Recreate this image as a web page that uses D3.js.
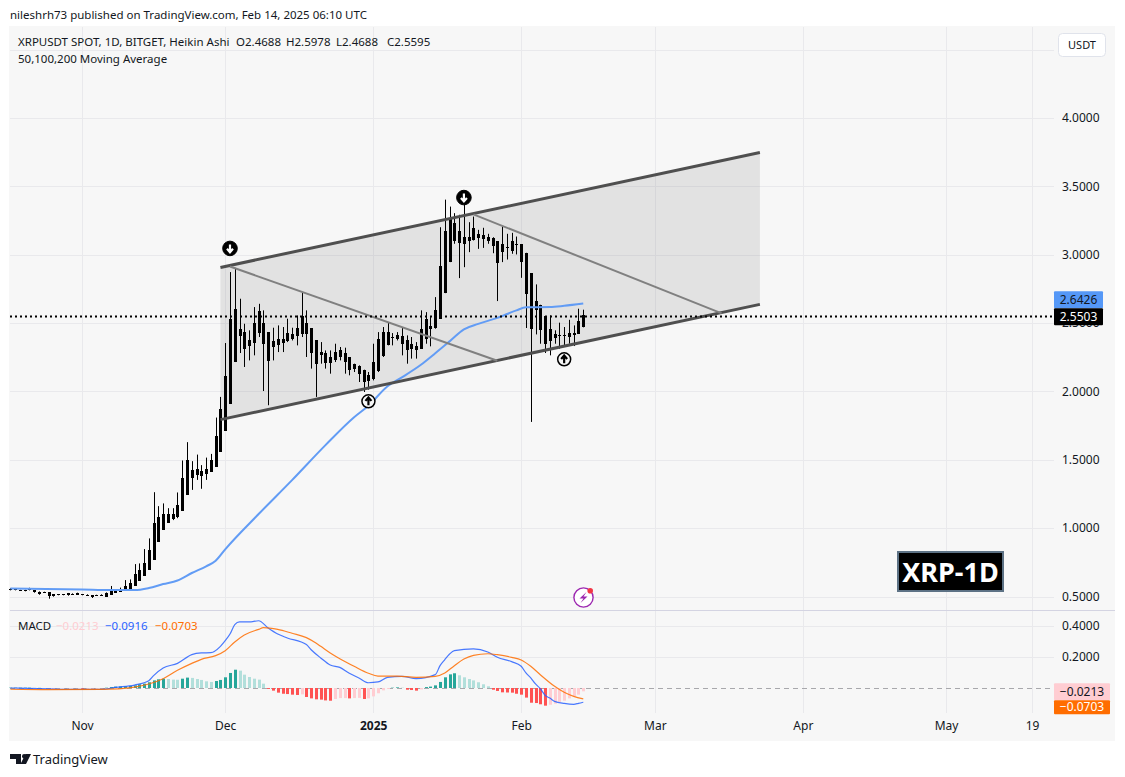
<!DOCTYPE html>
<html>
<head>
<meta charset="utf-8">
<script src="https://cdnjs.cloudflare.com/ajax/libs/d3/7.8.5/d3.min.js"></script>
<style>
	html, body { margin: 0; background: #fff; }
	svg { display: block; }
	text { font-family: "Noto Sans", sans-serif; fill: #131722; }
	.axis path, .axis line { display: none; }
</style>
</head>
<body>
<svg id="chart" width="1125" height="777"></svg>
<script>
// heikin ashi candles, one per day from firstDay to lastDay (all drawn black)
const firstDay = '2024-10-17', lastDay = '2025-02-14'
const bodyBottom = [
	.547,.547,.543,.540,.547,.530,.518,.528,.504,.501,.511,.511,.509,.516,.513,
	.511,.511,.496,.504,.504,.499,.513,.528,.535,.543,.557,.579,.616,.652,.696,.769,.901,.988,1.039,1.066,1.081,1.127,1.244,1.368,1.390,1.380,1.397,1.412,1.448,1.558,
	1.711,1.908,2.215,2.403,2.310,2.330,2.354,2.427,2.349,2.223,2.322,2.337,2.354,2.366,2.386,2.403,2.422,2.417,2.281,2.198,2.264,2.210,2.208,2.227,2.252,2.213,2.154,2.162,2.130,2.069,2.077,
	2.093,2.150,2.257,2.337,2.391,2.386,2.349,2.300,2.308,2.305,2.313,2.386,2.459,2.464,2.532,2.719,2.946,3.099,3.084,3.080,3.099,3.111,3.121,3.114,3.099,3.067,2.938,3.019,3.046,3.024,3.070,
	2.946,2.709,2.456,2.598,2.447,2.349,2.366,2.393,2.405,2.403,2.398,2.410,2.420,2.4688]
const bodyTop = [
	.555,.552,.547,.547,.555,.545,.535,.533,.530,.516,.516,.516,.523,.521,.523,
	.516,.513,.509,.509,.511,.526,.552,.547,.557,.577,.601,.664,.693,.747,.840,1.037,1.081,1.103,1.103,1.103,1.168,1.366,1.497,1.424,1.431,1.417,1.431,1.497,1.672,1.870,
	2.113,2.527,2.605,2.454,2.432,2.374,2.503,2.585,2.503,2.432,2.366,2.381,2.383,2.427,2.417,2.464,2.554,2.498,2.461,2.374,2.288,2.281,2.252,2.288,2.300,2.279,2.249,2.203,2.184,2.159,2.120,
	2.213,2.381,2.432,2.432,2.395,2.410,2.403,2.378,2.344,2.330,2.459,2.532,2.476,2.598,2.914,3.177,3.267,3.233,3.170,3.128,3.133,3.192,3.153,3.141,3.133,3.119,3.097,3.080,3.053,3.097,3.077,
	3.075,3.014,2.863,2.658,2.634,2.549,2.454,2.420,2.410,2.410,2.430,2.425,2.512,2.5595]
const wickHigh = [
	.560,.555,.549,.549,.564,.547,.537,.535,.532,.518,.518,.518,.526,.523,.528,
	.518,.516,.511,.513,.516,.530,.577,.550,.565,.620,.625,.737,.742,.847,.925,1.263,1.161,1.181,1.146,1.146,1.261,1.495,1.629,1.490,1.538,1.461,1.516,1.543,1.809,1.960,
	2.354,2.873,2.904,2.678,2.495,2.447,2.617,2.641,2.593,2.432,2.466,2.483,2.471,2.532,2.466,2.556,2.727,2.593,2.461,2.374,2.361,2.300,2.300,2.349,2.325,2.320,2.249,2.203,2.191,2.159,2.142,
	2.349,2.434,2.471,2.503,2.427,2.434,2.471,2.410,2.398,2.361,2.593,2.580,2.544,2.690,3.201,3.403,3.352,3.304,3.292,3.372,3.238,3.279,3.182,3.197,3.153,3.128,3.097,3.209,3.153,3.160,3.133,
	3.075,3.014,2.863,2.783,2.634,2.549,2.556,2.447,2.503,2.471,2.524,2.483,2.605,2.5978]
const wickLow = [
	.545,.545,.541,.538,.545,.528,.513,.526,.484,.499,.509,.509,.506,.513,.511,
	.509,.509,.489,.504,.504,.499,.513,.528,.535,.543,.557,.579,.616,.652,.696,.769,.901,.988,1.039,1.059,1.073,1.127,1.244,1.280,1.353,1.288,1.353,1.412,1.448,1.558,
	1.711,1.908,2.215,2.281,2.179,2.227,2.264,2.398,2.003,1.899,2.227,2.288,2.288,2.361,2.373,2.337,2.398,2.252,2.167,1.960,2.203,2.167,2.130,2.215,2.227,2.130,2.118,2.142,2.069,1.996,2.013,
	2.081,2.142,2.252,2.337,2.337,2.373,2.264,2.203,2.240,2.240,2.313,2.349,2.330,2.459,2.532,2.719,2.946,3.080,2.829,2.909,3.019,3.104,3.043,3.050,3.080,3.011,2.661,2.946,2.965,3.007,3.002,
	2.831,2.464,1.777,2.417,2.349,2.281,2.264,2.349,2.313,2.325,2.349,2.332,2.420,2.4688]

// moving average, read at these days
const maDays = ['2024-10-17','2024-11-01','2024-11-07','2024-11-12','2024-11-15','2024-11-18','2024-11-21','2024-11-24','2024-11-27','2024-11-29','2024-12-01','2024-12-08','2024-12-15','2024-12-22','2024-12-28','2024-12-31','2025-01-04','2025-01-07','2025-01-11','2025-01-14','2025-01-17','2025-01-20','2025-01-23','2025-01-27','2025-01-31','2025-02-02','2025-02-07','2025-02-10','2025-02-14']
const maValues = [.558,.551,.547,.547,.562,.591,.617,.672,.721,.761,.845,1.103,1.351,1.607,1.811,1.895,2.038,2.103,2.195,2.279,2.366,2.454,2.494,2.538,2.593,2.615,2.617,2.626,2.6426]

// macd histogram, one per day
const histValues = [
	.002,.002,.002,.002,.002,.001,.001,.000,-.001,-.002,-.002,-.002,-.002,-.002,-.002,
	-.004,-.004,-.004,-.003,-.002,.002,.006,.009,.010,.011,.013,.017,.024,.028,.037,.049,.056,.060,.058,.054,.053,.060,.067,.065,.058,.052,.043,.039,.045,.052,
	.069,.097,.118,.112,.086,.071,.060,.054,.028,-.006,-.017,-.030,-.037,-.039,-.043,-.045,-.041,-.058,-.067,-.073,-.075,-.080,-.082,-.071,-.065,-.065,-.067,-.065,-.064,-.071,-.067,
	-.054,-.034,-.015,-.006,.002,.004,.002,-.011,-.013,-.017,-.009,.006,.009,.017,.039,.069,.088,.095,.082,.069,.058,.049,.037,.024,.011,-.011,-.019,-.028,-.029,-.030,-.037,
	-.043,-.062,-.095,-.097,-.105,-.114,-.108,-.101,-.090,-.082,-.067,-.054,-.043,-.0213]

const macdDays = ['2024-10-17','2024-10-25','2024-11-01','2024-11-05','2024-11-08','2024-11-12','2024-11-15','2024-11-16','2024-11-18','2024-11-21','2024-11-24','2024-11-26','2024-11-28','2024-11-30','2024-12-01','2024-12-02','2024-12-03','2024-12-04','2024-12-06','2024-12-08','2024-12-10','2024-12-12','2024-12-14','2024-12-18','2024-12-19','2024-12-21','2024-12-23','2024-12-25','2024-12-27','2024-12-29','2024-12-31','2025-01-02','2025-01-04','2025-01-07','2025-01-10','2025-01-14','2025-01-15','2025-01-16','2025-01-17','2025-01-18','2025-01-22','2025-01-25','2025-01-27','2025-01-30','2025-02-01','2025-02-02','2025-02-03','2025-02-04','2025-02-05','2025-02-06','2025-02-07','2025-02-08','2025-02-10','2025-02-12','2025-02-13','2025-02-14']
const macdValues = [0,-.006,-.009,-.009,.004,.019,.047,.080,.129,.159,.215,.226,.228,.269,.305,.348,.409,.426,.426,.434,.387,.348,.323,.280,.247,.194,.148,.133,.095,.065,.034,.039,.069,.075,.060,.086,.144,.183,.219,.241,.252,.232,.198,.170,.140,.097,.065,.026,-.004,-.047,-.065,-.086,-.099,-.105,-.099,-.0916]
const signalDays = ['2024-10-17','2024-10-25','2024-11-05','2024-11-12','2024-11-15','2024-11-18','2024-11-21','2024-11-24','2024-11-26','2024-11-29','2024-12-01','2024-12-03','2024-12-05','2024-12-08','2024-12-09','2024-12-12','2024-12-15','2024-12-18','2024-12-20','2024-12-21','2024-12-23','2024-12-25','2024-12-28','2024-12-31','2025-01-02','2025-01-06','2025-01-10','2025-01-14','2025-01-16','2025-01-18','2025-01-20','2025-01-22','2025-01-25','2025-01-27','2025-01-30','2025-02-01','2025-02-03','2025-02-05','2025-02-08','2025-02-10','2025-02-12','2025-02-14']
const signalValues = [-.008,-.011,-.009,.006,.026,.060,.114,.159,.185,.209,.241,.297,.342,.378,.389,.378,.353,.325,.290,.269,.226,.189,.140,.095,.077,.077,.069,.075,.097,.144,.187,.211,.221,.215,.198,.181,.140,.086,.011,-.028,-.054,-.0703]

// drawings
const channelDays = ['2024-11-30', '2025-03-23']
const channelUpper = [2.907, 3.747]
const channelLower = [1.794, 2.637]
const fallingDays = [['2024-12-02', '2025-01-27'], ['2025-01-22', '2025-03-15']]
const fallingPrices = [[2.914, 2.224], [3.295, 2.571]]
const signalMarkDays = ['2024-12-02', '2025-01-20', '2024-12-31', '2025-02-10']
const signalMarkPrices = [3.046, 3.418, 1.928, 2.235]
const signalMarkDirs = ['down', 'down', 'up', 'up']

// axes
const priceTicks = [.5, 1, 1.5, 2, 2.5, 3, 3.5, 4]
const priceGrid = [.5, 1, 1.5, 2, 2.5, 3, 3.5, 4, 4.5]
const macdTicks = [.2, .4]
const timeTicks = ['2024-11-01', '2024-12-01', '2025-01-01', '2025-02-01', '2025-03-01', '2025-04-01', '2025-05-01', '2025-05-19']
const timeLabels = ['Nov', 'Dec', '2025', 'Feb', 'Mar', 'Apr', 'May', '19']

const svg = d3.select('#chart')
const day = d3.utcParse('%Y-%m-%d')
const days = d3.utcDay.range(day(firstDay), d3.utcDay.offset(day(lastDay), 1))

const paneLeft = 10, paneRight = 1054, macdBottom = 713
const x = d3.scaleUtc().domain([day('2024-11-01'), day('2025-05-19')]).range([82, 1032])
const y = d3.scaleLinear().domain([.5, 4]).range([596.5, 118])
const my = d3.scaleLinear().domain([0, .4]).range([688, 626])

// panel background
svg.append('rect').attr('x', 9).attr('y', 26).attr('width', 1106).attr('height', 715).attr('fill', '#f7f7f7')

// grid
const grid = svg.append('g').attr('stroke', '#e9e9ec').attr('stroke-width', 1).attr('fill', 'none')
timeTicks.forEach(t => {
	const px = Math.round(x(day(t))) + .5
	grid.append('line').attr('x1', px).attr('x2', px).attr('y1', 27).attr('y2', macdBottom)
})
priceGrid.forEach(p => {
	const py = Math.round(y(p)) + .5
	grid.append('line').attr('x1', paneLeft).attr('x2', paneRight).attr('y1', py).attr('y2', py)
})
macdTicks.forEach(p => {
	const py = Math.round(my(p)) + .5
	grid.append('line').attr('x1', paneLeft).attr('x2', paneRight).attr('y1', py).attr('y2', py)
})
svg.append('line').attr('x1', 10).attr('x2', 1115).attr('y1', 610.5).attr('y2', 610.5).attr('stroke', '#d4d4e2')

// channel fill
const channelArea = d3.area()
	.x(d => x(day(d)))
	.y0((d, i) => y(channelLower[i]))
	.y1((d, i) => y(channelUpper[i]))
svg.append('path').datum(channelDays).attr('d', channelArea).attr('fill', 'rgba(120,120,120,.16)')

// candles
const candles = svg.append('g')
days.forEach((d, i) => {
	const cx = Math.round(x(d))
	candles.append('rect').attr('x', cx).attr('width', 1)
		.attr('y', y(wickHigh[i])).attr('height', y(wickLow[i]) - y(wickHigh[i]))
		.attr('fill', '#000')
	const top = Math.round(y(bodyTop[i]))
	candles.append('rect').attr('x', cx - 1).attr('width', 3)
		.attr('y', top).attr('height', Math.max(1, Math.round(y(bodyBottom[i])) - top))
		.attr('fill', '#000')
})

// moving average
const maLine = d3.line().x((d, i) => x(day(d))).y((d, i) => y(maValues[i])).curve(d3.curveMonotoneX)
svg.append('path').datum(maDays).attr('d', maLine).attr('fill', 'none').attr('stroke', '#629cf5').attr('stroke-width', 2)

// channel and falling lines
const upperLine = d3.line().x(d => x(day(d))).y((d, i) => y(channelUpper[i]))
const lowerLine = d3.line().x(d => x(day(d))).y((d, i) => y(channelLower[i]))
svg.append('path').datum(channelDays).attr('d', upperLine).attr('fill', 'none').attr('stroke', '#4f4f4f').attr('stroke-width', 3)
svg.append('path').datum(channelDays).attr('d', lowerLine).attr('fill', 'none').attr('stroke', '#4f4f4f').attr('stroke-width', 3)
fallingDays.forEach((ds, k) => {
	svg.append('line')
		.attr('x1', x(day(ds[0]))).attr('y1', y(fallingPrices[k][0]))
		.attr('x2', x(day(ds[1]))).attr('y2', y(fallingPrices[k][1]))
		.attr('stroke', '#808080').attr('stroke-width', 2)
})

// last price dotted line
svg.append('line').attr('x1', paneLeft).attr('x2', paneRight + 2)
	.attr('y1', Math.round(y(2.5503)) + .5).attr('y2', Math.round(y(2.5503)) + .5)
	.attr('stroke', '#000').attr('stroke-width', 2).attr('stroke-dasharray', '2 3')

// arrow marks
signalMarkDays.forEach((d, i) => {
	const g = svg.append('g').attr('transform', `translate(${x(day(d))},${y(signalMarkPrices[i])})`)
	const down = signalMarkDirs[i] == 'down'
	g.append('circle').attr('r', down ? 7.3 : 6.5)
		.attr('fill', down ? '#000' : '#f7f7f7')
		.attr('stroke', '#000').attr('stroke-width', down ? 1 : 1.5)
	const col = down ? '#fff' : '#000'
	g.append('path')
		.attr('d', down ? 'M0,-4V3.5M-3,0.4L0,3.8L3,0.4' : 'M0,4V-3.5M-3,-0.4L0,-3.8L3,-0.4')
		.attr('fill', 'none').attr('stroke', col).attr('stroke-width', 2.2)
})

// macd pane
svg.append('line').attr('x1', paneLeft).attr('x2', paneRight)
	.attr('y1', Math.round(my(0)) + .5).attr('y2', Math.round(my(0)) + .5)
	.attr('stroke', '#a8a8ac').attr('stroke-dasharray', '5 4')

svg.append('g').selectAll('rect').data(histValues).join('rect')
	.attr('x', (d, i) => Math.round(x(days[i])) - 1)
	.attr('width', 3)
	.attr('y', d => Math.min(my(d), my(0)))
	.attr('height', d => Math.abs(my(d) - my(0)))
	.attr('fill', (d, i) => {
		const prev = i ? histValues[i - 1] : 0
		if (d >= 0) return d >= prev ? '#26a69a' : '#b2dfdb'
		return d < prev ? '#ff5252' : '#ffcdd2'
	})

const macdLine = d3.line().x(d => x(day(d))).y((d, i) => my(macdValues[i])).curve(d3.curveMonotoneX)
const signalLine = d3.line().x(d => x(day(d))).y((d, i) => my(signalValues[i])).curve(d3.curveMonotoneX)
svg.append('path').datum(macdDays).attr('d', macdLine).attr('fill', 'none').attr('stroke', '#2962ff').attr('stroke-width', 1.2).attr('opacity', .85)
svg.append('path').datum(signalDays).attr('d', signalLine).attr('fill', 'none').attr('stroke', '#ff6d00').attr('stroke-width', 1.2).attr('opacity', .85)

// axes
const fontPx = 11.5
const priceAxis = d3.axisRight(y).tickValues(priceTicks).tickFormat(d3.format('.4f')).tickSize(0).tickPadding(0)
svg.append('g').attr('class', 'axis').attr('transform', 'translate(1062,0)').call(priceAxis)
const macdAxis = d3.axisRight(my).tickValues(macdTicks).tickFormat(d3.format('.4f')).tickSize(0).tickPadding(0)
svg.append('g').attr('class', 'axis').attr('transform', 'translate(1062,0)').call(macdAxis)
const timeAxis = d3.axisBottom(x).tickValues(timeTicks.map(day)).tickFormat((d, i) => timeLabels[i]).tickSize(0).tickPadding(0)
const timeG = svg.append('g').attr('class', 'axis').attr('transform', 'translate(0,721)').call(timeAxis)
timeG.selectAll('text').filter((d, i) => timeLabels[i] == '2025').attr('font-weight', 700)
svg.selectAll('.axis text').attr('font-size', 12).style('font-family', '"Noto Sans", sans-serif').attr('fill', '#131722')

// header and legends
const label = (px, py, str, col) => svg.append('text')
	.attr('x', px).attr('y', py).attr('font-size', fontPx)
	.style('fill', col || '#131722').text(str)

label(10, 19, 'nileshrh73 published on TradingView.com, Feb 14, 2025 06:10 UTC')
label(18, 46, 'XRPUSDT SPOT, 1D, BITGET, Heikin Ashi')
label(236, 46, 'O2.4688')
label(286, 46, 'H2.5978')
label(336, 46, 'L2.4688')
label(387, 46, 'C2.5595')
label(18, 63, '50,100,200 Moving Average')
label(18, 630, 'MACD')
label(56, 630, '\u22120.0213', '#ffcdd2')
label(105, 630, '\u22120.0916', '#2962ff')
label(155, 630, '\u22120.0703', '#ff6d00')

// price tags
const tag = (left, top, w, h, fill, str, col) => {
	svg.append('rect').attr('x', left).attr('y', top).attr('width', w).attr('height', h).attr('fill', fill).attr('rx', 1)
	svg.append('text').attr('x', left + w / 2).attr('y', top + h / 2 + 4).attr('text-anchor', 'middle')
		.attr('font-size', 12).style('fill', col).text(str)
}
tag(1054, y(2.5503) - 25, 49, 17, '#5598f7', '2.6426', '#131722')
tag(1054, y(2.5503) - 8, 49, 17, '#000', '2.5503', '#fff')
tag(1054, my(-.0213) - 8, 56, 17, '#ffcdd2', '\u22120.0213', '#131722')
tag(1054, my(-.0213) + 9, 56, 14, '#ff6d00', '\u22120.0703', '#fff')

// currency button
svg.append('rect').attr('x', 1058.5).attr('y', 33.5).attr('width', 47).attr('height', 23).attr('rx', 4).attr('fill', '#fff').attr('stroke', '#e0e3eb')
svg.append('text').attr('x', 1082).attr('y', 49).attr('text-anchor', 'middle').attr('font-size', 11).text('USDT')

// title box
svg.append('rect').attr('x', 898).attr('y', 552).attr('width', 105).attr('height', 39).attr('fill', '#000').attr('stroke', '#5d7285').attr('stroke-width', 2)
svg.append('text').attr('x', 950.5).attr('y', 582).attr('text-anchor', 'middle').attr('font-size', 27).attr('font-weight', 700).style('fill', '#fff').text('XRP-1D')

// lightning icon
svg.append('circle').attr('cx', 583.5).attr('cy', 597.5).attr('r', 9.6).attr('fill', '#fff').attr('stroke', '#9c27b0').attr('stroke-width', 1.4)
svg.append('path').attr('d', 'M586.5,592L579.5,598.5H583.5L580.5,603L587.5,596.5H583.5Z').attr('fill', '#9c27b0')
svg.append('circle').attr('cx', 590.2).attr('cy', 590.7).attr('r', 2.8).attr('fill', '#f23645')

// logo
svg.append('path').attr('d', 'M10,754H21V764H16V759H10Z M31,754L26,764H20.5L25.5,754Z').attr('fill', '#131722')
svg.append('circle').attr('cx', 24.2).attr('cy', 756.2).attr('r', 2.2).attr('fill', '#131722')
svg.append('text').attr('x', 33).attr('y', 764).attr('font-size', 13).text('TradingView')
</script>
</body>
</html>
